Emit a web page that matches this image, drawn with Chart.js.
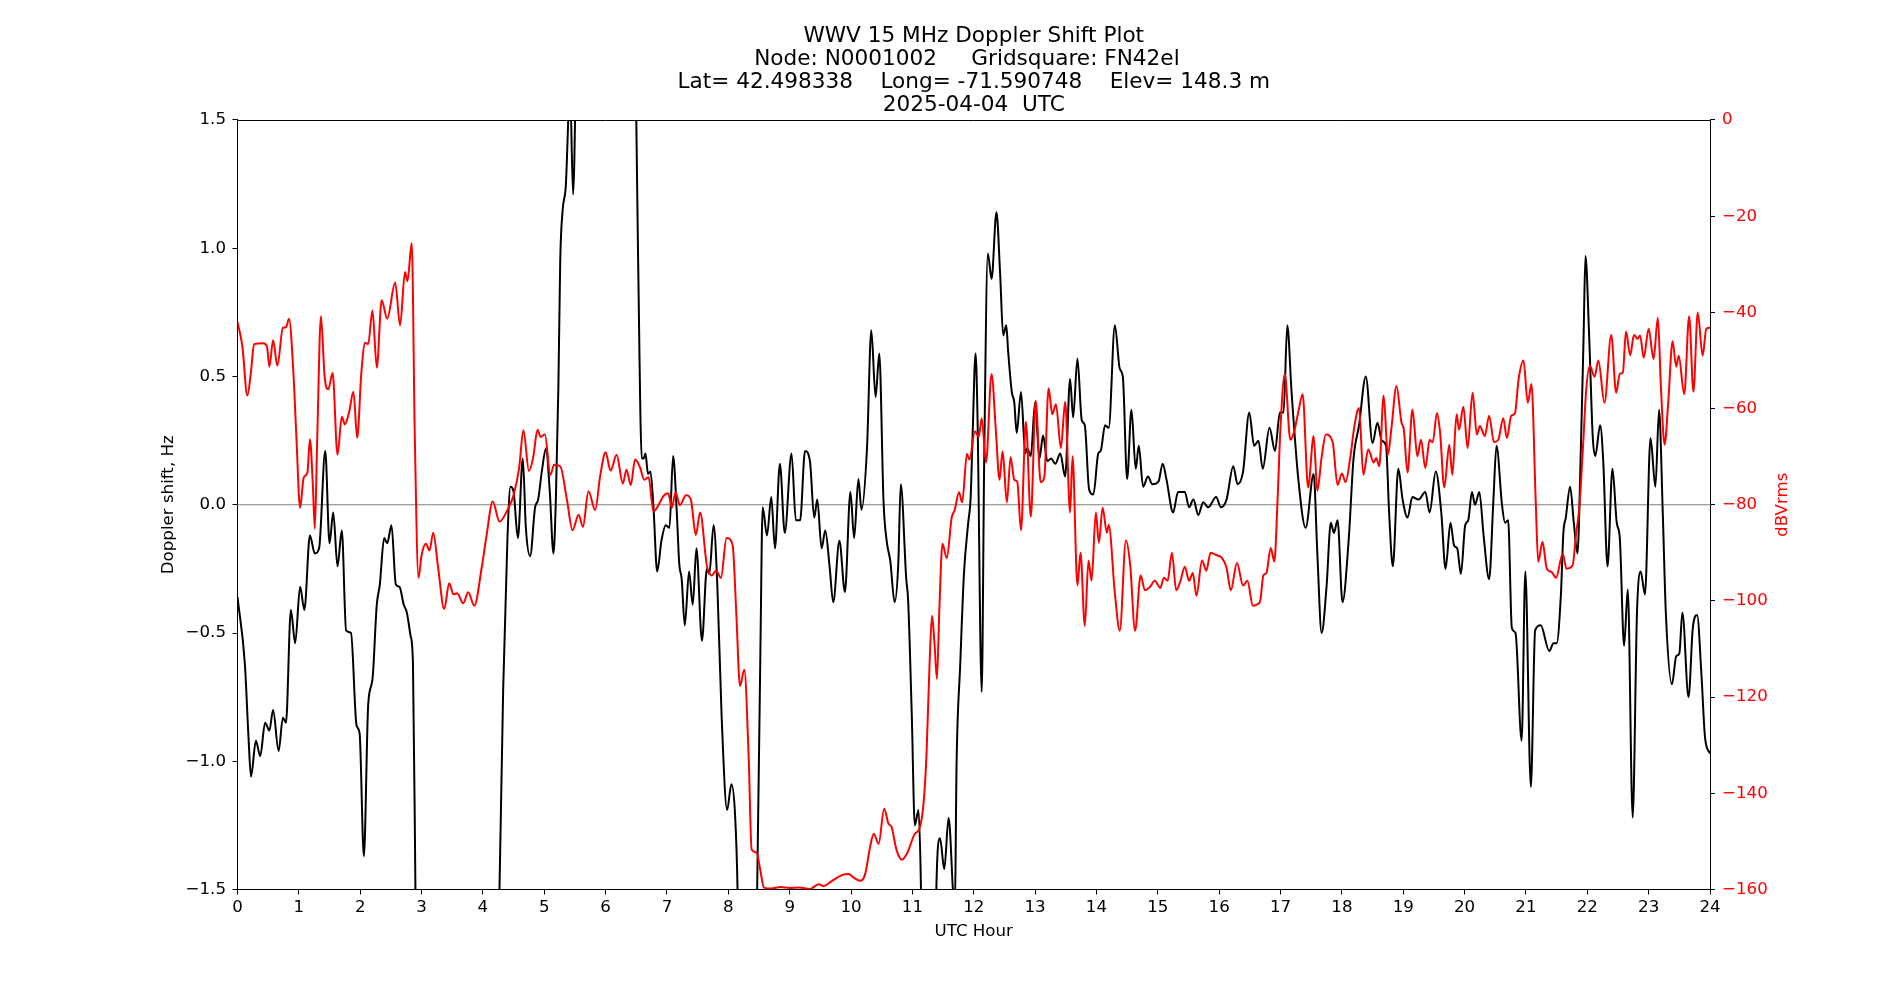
<!DOCTYPE html>
<html>
<head>
<meta charset="utf-8">
<title>WWV 15 MHz Doppler Shift Plot</title>
<script src="https://cdn.jsdelivr.net/npm/chart.js@4.4.1/dist/chart.umd.min.js"></script>
<style>
  html, body { margin: 0; padding: 0; background: #fff; }
  #wrap { width: 1900px; height: 1000px; }
</style>
</head>
<body>
<div id="wrap"><canvas id="dopplerChart" width="1900" height="1000"></canvas></div>
<script>
// title lines
const titleLines = [
    'WWV 15 MHz Doppler Shift Plot',
    'Node: N0001002     Gridsquare: FN42el  ',
    'Lat= 42.498338    Long= -71.590748    Elev= 148.3 m',
    '2025-04-04  UTC'
];

// Doppler shift (Hz); values beyond +-1.5 run off the axes
const dopplerHours = [
    0.00, 0.12, 0.18, 0.22, 0.30, 0.37, 0.45, 0.52, 0.58, 0.67, 0.74, 0.79, 0.87, 0.94,
    1.02, 1.09, 1.18, 1.26, 1.33, 1.43, 1.50, 1.56, 1.63, 1.70, 1.77, 1.85, 1.94, 1.99,
    2.06, 2.13, 2.20, 2.27, 2.32, 2.39, 2.44, 2.51, 2.58, 2.64, 2.71, 2.76, 2.82, 2.86,
    2.90, 2.95, 4.20, 4.27, 4.33, 4.40, 4.45, 4.50, 4.57, 4.65, 4.70, 4.77, 4.85, 4.90,
    4.96, 5.03, 5.09, 5.15, 5.19, 5.23, 5.26, 5.30, 5.35, 5.42, 5.47, 5.52, 5.56, 6.44,
    6.50, 6.53, 6.59, 6.62, 6.65, 6.69, 6.73, 6.78, 6.84, 6.91, 6.98, 7.04, 7.10, 7.16,
    7.20, 7.24, 7.29, 7.36, 7.42, 7.48, 7.57, 7.65, 7.69, 7.76, 7.82, 7.89, 7.98, 8.05,
    8.11, 8.15, 8.20, 8.43, 8.47, 8.52, 8.56, 8.63, 8.70, 8.76, 8.84, 8.92, 9.03, 9.10,
    9.17, 9.25, 9.33, 9.40, 9.45, 9.52, 9.58, 9.65, 9.71, 9.81, 9.90, 9.99, 10.05, 10.12,
    10.17, 10.26, 10.33, 10.40, 10.46, 10.53, 10.58, 10.64, 10.71, 10.77, 10.81, 10.90, 10.93, 10.99,
    11.04, 11.10, 11.14, 11.19, 11.34, 11.39, 11.45, 11.52, 11.59, 11.66, 11.69, 11.72, 11.78, 11.84,
    11.91, 11.95, 11.98, 12.03, 12.06, 12.13, 12.17, 12.23, 12.29, 12.37, 12.43, 12.48, 12.53, 12.56,
    12.62, 12.66, 12.70, 12.77, 12.84, 12.87, 12.93, 13.00, 13.07, 13.13, 13.20, 13.26, 13.33, 13.41,
    13.49, 13.57, 13.62, 13.69, 13.76, 13.81, 13.88, 13.95, 14.03, 14.07, 14.14, 14.20, 14.30, 14.38,
    14.43, 14.50, 14.57, 14.64, 14.69, 14.76, 14.84, 14.91, 15.01, 15.08, 15.14, 15.25, 15.33, 15.44,
    15.51, 15.58, 15.66, 15.74, 15.82, 15.95, 16.03, 16.12, 16.23, 16.30, 16.39, 16.49, 16.57, 16.64,
    16.71, 16.82, 16.91, 16.99, 17.05, 17.11, 17.18, 17.29, 17.41, 17.54, 17.60, 17.67, 17.75, 17.82,
    17.87, 17.93, 18.01, 18.11, 18.19, 18.28, 18.39, 18.50, 18.58, 18.65, 18.72, 18.77, 18.83, 18.92,
    18.99, 19.07, 19.15, 19.25, 19.36, 19.43, 19.53, 19.62, 19.69, 19.77, 19.83, 19.88, 19.94, 20.01,
    20.06, 20.12, 20.17, 20.24, 20.31, 20.40, 20.47, 20.52, 20.61, 20.66, 20.71, 20.77, 20.83, 20.93,
    20.99, 21.08, 21.15, 21.24, 21.38, 21.45, 21.50, 21.57, 21.61, 21.65, 21.72, 21.78, 21.84, 21.89,
    21.94, 21.97, 22.03, 22.09, 22.13, 22.21, 22.26, 22.33, 22.41, 22.48, 22.53, 22.60, 22.66, 22.74,
    22.81, 22.87, 22.94, 23.03, 23.11, 23.17, 23.23, 23.28, 23.38, 23.45, 23.50, 23.55, 23.65, 23.72,
    23.79, 23.86, 23.92, 24.00
];
const dopplerShift = [
    -0.36, -0.62, -0.91, -1.06, -0.92, -0.98, -0.85, -0.88, -0.80, -0.96, -0.83, -0.85, -0.41, -0.54,
    -0.32, -0.41, -0.12, -0.19, -0.17, 0.21, -0.15, -0.03, -0.24, -0.10, -0.49, -0.50, -0.86, -0.89,
    -1.37, -0.78, -0.68, -0.39, -0.31, -0.13, -0.15, -0.08, -0.31, -0.32, -0.39, -0.42, -0.51, -0.62,
    -1.50, -2.60, -2.60, -1.50, -0.72, -0.13, 0.07, 0.05, -0.13, 0.18, -0.09, -0.20, -0.01, 0.02,
    0.13, 0.22, 0.05, -0.19, 0.03, 0.46, 0.95, 1.15, 1.24, 1.62, 1.21, 1.80, 2.60, 2.60,
    1.50, 0.95, 0.18, 0.18, 0.20, 0.12, 0.13, -0.01, -0.26, -0.14, -0.08, -0.09, 0.19, -0.03,
    -0.23, -0.29, -0.47, -0.26, -0.39, -0.17, -0.53, -0.25, -0.27, -0.08, -0.31, -0.82, -1.19, -1.09,
    -1.21, -1.50, -2.40, -2.40, -1.50, -0.62, -0.01, -0.12, 0.03, -0.17, 0.16, -0.11, 0.20, -0.06,
    -0.06, 0.21, 0.17, -0.05, 0.02, -0.17, -0.10, -0.24, -0.38, -0.14, -0.34, 0.05, -0.13, 0.10,
    -0.02, 0.22, 0.68, 0.42, 0.59, 0.01, -0.14, -0.22, -0.38, -0.23, 0.08, -0.29, -0.37, -0.82,
    -1.25, -1.19, -1.50, -2.40, -2.40, -1.50, -1.30, -1.42, -1.22, -1.50, -1.62, -1.01, -0.62, -0.27,
    -0.07, 0.03, 0.26, 0.59, 0.36, -0.73, 0.17, 0.98, 0.88, 1.14, 0.90, 0.66, 0.70, 0.60,
    0.44, 0.40, 0.28, 0.44, 0.20, 0.22, 0.19, 0.40, 0.18, 0.27, 0.17, 0.18, 0.16, 0.20,
    0.11, 0.49, 0.34, 0.57, 0.33, 0.31, 0.06, 0.04, 0.20, 0.21, 0.31, 0.30, 0.70, 0.53,
    0.50, 0.10, 0.37, 0.14, 0.23, 0.07, 0.11, 0.08, 0.09, 0.16, 0.10, -0.03, 0.05, 0.05,
    -0.01, 0.02, -0.04, 0.01, -0.01, 0.03, -0.01, 0.02, 0.15, 0.08, 0.13, 0.36, 0.23, 0.25,
    0.14, 0.30, 0.21, 0.36, 0.36, 0.70, 0.44, 0.10, -0.09, 0.12, -0.19, -0.50, -0.32, -0.07,
    -0.11, -0.06, -0.38, -0.14, 0.18, 0.31, 0.50, 0.24, 0.32, 0.25, 0.23, -0.03, -0.24, 0.14,
    0.02, -0.05, 0.03, 0.02, 0.05, -0.03, 0.13, -0.03, -0.25, -0.07, -0.16, -0.17, -0.27, -0.08,
    -0.06, 0.05, 0.00, 0.05, -0.12, -0.29, 0.02, 0.23, 0.00, -0.07, -0.06, -0.48, -0.50, -0.92,
    -0.26, -1.10, -0.49, -0.47, -0.57, -0.54, -0.54, -0.35, -0.11, -0.05, 0.07, -0.07, -0.19, 0.17,
    0.66, 0.97, 0.66, 0.26, 0.19, 0.31, 0.17, -0.24, 0.14, -0.07, -0.13, -0.55, -0.33, -1.22,
    -0.42, -0.26, -0.35, 0.26, 0.07, 0.37, -0.03, -0.42, -0.70, -0.59, -0.58, -0.42, -0.75, -0.48,
    -0.43, -0.66, -0.91, -0.97
];

// received signal level (dBVrms)
const powerHours = [
    0.00, 0.08, 0.16, 0.22, 0.27, 0.42, 0.48, 0.52, 0.58, 0.65, 0.74, 0.79, 0.84, 0.91,
    0.96, 1.02, 1.08, 1.14, 1.18, 1.23, 1.26, 1.30, 1.36, 1.42, 1.48, 1.55, 1.63, 1.70,
    1.75, 1.82, 1.89, 1.95, 2.02, 2.08, 2.13, 2.20, 2.27, 2.35, 2.44, 2.57, 2.65, 2.73,
    2.77, 2.84, 2.89, 2.95, 3.00, 3.07, 3.13, 3.19, 3.27, 3.37, 3.45, 3.52, 3.58, 3.68,
    3.76, 3.86, 3.98, 4.06, 4.16, 4.27, 4.40, 4.50, 4.59, 4.66, 4.75, 4.82, 4.89, 4.94,
    5.01, 5.10, 5.16, 5.26, 5.37, 5.46, 5.56, 5.63, 5.72, 5.83, 5.91, 6.00, 6.08, 6.18,
    6.28, 6.34, 6.41, 6.48, 6.56, 6.63, 6.70, 6.78, 6.86, 6.94, 7.02, 7.08, 7.14, 7.21,
    7.31, 7.39, 7.47, 7.54, 7.65, 7.73, 7.80, 7.88, 7.97, 8.07, 8.13, 8.19, 8.26, 8.33,
    8.38, 8.46, 8.52, 8.58, 8.70, 8.85, 9.00, 9.15, 9.33, 9.47, 9.55, 9.68, 9.85, 9.96,
    10.04, 10.15, 10.23, 10.31, 10.37, 10.45, 10.54, 10.61, 10.66, 10.74, 10.83, 10.92, 11.04, 11.11,
    11.18, 11.23, 11.28, 11.32, 11.36, 11.40, 11.44, 11.49, 11.56, 11.64, 11.69, 11.76, 11.81, 11.89,
    11.93, 12.02, 12.08, 12.13, 12.20, 12.29, 12.36, 12.42, 12.47, 12.54, 12.60, 12.66, 12.71, 12.77,
    12.85, 12.93, 13.01, 13.09, 13.15, 13.22, 13.28, 13.34, 13.42, 13.49, 13.57, 13.61, 13.69, 13.74,
    13.81, 13.87, 13.92, 13.99, 14.04, 14.10, 14.17, 14.20, 14.30, 14.38, 14.48, 14.55, 14.63, 14.72,
    14.79, 14.87, 14.95, 15.04, 15.10, 15.16, 15.23, 15.30, 15.37, 15.44, 15.51, 15.57, 15.63, 15.72,
    15.79, 15.86, 15.96, 16.04, 16.12, 16.19, 16.29, 16.39, 16.46, 16.55, 16.62, 16.67, 16.72, 16.77,
    16.84, 16.90, 16.95, 17.00, 17.07, 17.16, 17.22, 17.29, 17.36, 17.45, 17.54, 17.60, 17.67, 17.74,
    17.85, 17.93, 18.00, 18.06, 18.14, 18.20, 18.28, 18.35, 18.43, 18.52, 18.56, 18.61, 18.68, 18.75,
    18.81, 18.89, 18.97, 19.01, 19.07, 19.15, 19.23, 19.29, 19.36, 19.43, 19.48, 19.55, 19.60, 19.67,
    19.75, 19.80, 19.87, 19.91, 19.98, 20.05, 20.13, 20.20, 20.25, 20.33, 20.40, 20.48, 20.55, 20.63,
    20.69, 20.76, 20.82, 20.88, 20.96, 21.03, 21.09, 21.16, 21.20, 21.27, 21.34, 21.42, 21.49, 21.60,
    21.66, 21.76, 21.82, 21.87, 21.93, 21.98, 22.04, 22.12, 22.18, 22.28, 22.39, 22.47, 22.53, 22.58,
    22.63, 22.70, 22.76, 22.82, 22.86, 22.92, 23.00, 23.08, 23.15, 23.20, 23.26, 23.32, 23.39, 23.45,
    23.49, 23.58, 23.66, 23.73, 23.80, 23.88, 23.94, 24.00
];
const powerDb = [
    -42.0, -47.1, -57.3, -52.3, -46.6, -46.4, -47.1, -51.3, -45.8, -51.1, -43.2, -43.1, -41.3, -52.3,
    -65.9, -80.6, -74.3, -73.3, -66.4, -76.4, -85.0, -65.9, -40.8, -53.4, -56.0, -52.6, -69.6, -61.7,
    -63.3, -60.7, -56.5, -66.1, -52.3, -46.3, -46.6, -39.6, -51.5, -37.5, -41.3, -33.8, -42.7, -31.6,
    -33.5, -25.6, -65.9, -95.2, -90.5, -88.1, -89.5, -85.8, -93.1, -101.7, -96.3, -98.6, -98.4, -100.5,
    -98.2, -101.0, -93.1, -86.3, -79.3, -83.5, -81.1, -78.0, -72.4, -64.5, -73.0, -70.1, -64.4, -65.9,
    -65.4, -73.8, -71.7, -72.0, -79.0, -85.3, -82.1, -84.6, -77.2, -81.1, -74.1, -69.1, -72.9, -69.6,
    -75.6, -72.7, -75.9, -70.6, -72.2, -74.8, -74.3, -81.4, -80.1, -78.2, -77.6, -80.6, -77.4, -80.1,
    -78.0, -79.0, -86.3, -81.6, -92.6, -94.7, -93.7, -95.2, -86.9, -88.4, -102.6, -117.7, -114.3, -131.9,
    -151.7, -152.3, -155.9, -159.6, -159.8, -159.5, -159.7, -159.6, -159.9, -158.9, -159.3, -158.3, -157.0, -156.8,
    -157.5, -158.2, -156.8, -151.2, -148.4, -150.5, -143.2, -146.3, -147.0, -151.7, -153.8, -152.3, -148.4, -147.5,
    -142.3, -131.9, -113.0, -103.1, -108.8, -116.2, -101.5, -88.1, -91.1, -82.7, -81.1, -77.4, -79.5, -69.4,
    -70.6, -64.7, -65.9, -62.0, -71.2, -52.8, -64.5, -74.8, -68.9, -79.5, -70.1, -74.8, -75.3, -85.3,
    -62.8, -82.5, -58.4, -75.3, -74.3, -55.8, -61.2, -59.1, -68.2, -58.6, -81.6, -69.9, -96.8, -90.0,
    -105.2, -91.6, -95.8, -81.6, -87.9, -80.6, -85.8, -84.2, -98.4, -106.2, -87.4, -92.6, -106.2, -94.7,
    -97.8, -97.1, -95.8, -97.3, -95.2, -95.8, -90.0, -97.8, -95.8, -92.9, -95.8, -94.2, -98.9, -91.6,
    -93.7, -90.0, -90.5, -91.0, -93.1, -97.8, -92.1, -96.8, -95.8, -101.0, -100.7, -99.9, -94.7, -94.2,
    -89.0, -91.8, -79.5, -63.8, -52.8, -66.5, -64.9, -60.7, -57.0, -76.4, -65.7, -77.1, -70.1, -65.4,
    -67.0, -75.9, -73.5, -75.3, -69.9, -64.0, -59.9, -73.8, -68.5, -71.2, -70.3, -72.0, -57.3, -69.6,
    -63.8, -55.3, -62.8, -64.4, -73.3, -60.2, -69.9, -66.5, -72.4, -66.5, -67.0, -60.9, -64.9, -76.4,
    -67.5, -73.8, -61.2, -64.4, -59.6, -68.2, -56.7, -65.4, -63.6, -65.7, -61.5, -67.0, -66.5, -62.0,
    -66.1, -61.5, -61.0, -53.9, -50.0, -58.8, -54.9, -79.5, -91.9, -87.7, -93.3, -94.0, -95.2, -90.2,
    -93.3, -92.6, -85.8, -80.6, -68.0, -56.5, -51.1, -53.4, -50.0, -58.8, -44.7, -56.7, -52.8, -52.5,
    -44.0, -48.9, -44.7, -45.5, -44.8, -49.4, -43.4, -49.7, -41.1, -55.5, -67.5, -58.6, -46.0, -51.3,
    -49.0, -57.0, -40.8, -56.5, -40.0, -49.0, -43.4, -43.2
];

// horizontal reference line at zero Doppler shift
const zeroHours = [0, 24];
const zeroLevel = [0, 0];

// axis ticks
const hourTicks = { min: 0, max: 24, step: 1 };
const dopplerTicks = { min: -1.5, max: 1.5, step: 0.5 };
const powerTicks = { min: -160, max: 0, step: 20 };

const FONT = 'DejaVu Sans';
const LABEL_SIZE = 16.67;
const TITLE_SIZE = 21.6;

function toPoints(xs, ys) {
    return xs.map((x, i) => ({ x: x, y: ys[i] }));
}

function minusSign(s) {
    return s.replace('-', '\u2212');
}

// top spine and right-hand axis label (matplotlib style, reads bottom to top)
const extrasPlugin = {
    id: 'extras',
    afterDraw(chart) {
        const { ctx, chartArea } = chart;
        ctx.save();
        ctx.strokeStyle = '#000';
        ctx.lineWidth = 1;
        ctx.beginPath();
        ctx.moveTo(chartArea.left, Math.round(chartArea.top) + 0.5);
        ctx.lineTo(chartArea.right, Math.round(chartArea.top) + 0.5);
        ctx.stroke();

        ctx.translate(chartArea.right + 72.5, (chartArea.top + chartArea.bottom) / 2);
        ctx.rotate(-Math.PI / 2);
        ctx.fillStyle = '#ff0000';
        ctx.font = LABEL_SIZE + 'px "' + FONT + '"';
        ctx.textAlign = 'center';
        ctx.textBaseline = 'middle';
        ctx.fillText('dBVrms', 0, 0);
        ctx.restore();
    }
};

function main() {
    Chart.defaults.font.family = FONT;
    Chart.defaults.color = '#000';

    new Chart(document.getElementById('dopplerChart'), {
        type: 'line',
        data: {
            datasets: [
                {
                    label: 'dBVrms',
                    data: toPoints(powerHours, powerDb),
                    yAxisID: 'y2',
                    borderColor: '#ff0000',
                    borderWidth: 2,
                    pointRadius: 0,
                    cubicInterpolationMode: 'monotone'
                },
                {
                    label: 'Doppler shift',
                    data: toPoints(dopplerHours, dopplerShift),
                    yAxisID: 'y',
                    borderColor: '#000000',
                    borderWidth: 2,
                    pointRadius: 0,
                    cubicInterpolationMode: 'monotone'
                },
                {
                    label: 'zero',
                    data: toPoints(zeroHours, zeroLevel),
                    yAxisID: 'y',
                    borderColor: '#808080',
                    borderWidth: 1.2,
                    pointRadius: 0
                }
            ]
        },
        options: {
            responsive: false,
            animation: false,
            events: [],
            parsing: false,
            layout: { padding: { left: 140, right: 90, top: 0, bottom: 50.5 } },
            plugins: {
                legend: { display: false },
                tooltip: { enabled: false },
                title: {
                    display: true,
                    fullSize: false,
                    text: titleLines,
                    color: '#000',
                    font: { family: FONT, size: TITLE_SIZE, weight: 'normal', lineHeight: 23 / TITLE_SIZE },
                    padding: { top: 25, bottom: 3 }
                }
            },
            scales: {
                x: {
                    type: 'linear',
                    position: 'bottom',
                    min: hourTicks.min,
                    max: hourTicks.max,
                    ticks: {
                        stepSize: hourTicks.step,
                        autoSkip: false,
                        maxRotation: 0,
                        padding: 3.5,
                        color: '#000',
                        font: { size: LABEL_SIZE },
                        callback: v => String(v)
                    },
                    grid: { drawOnChartArea: false, drawTicks: true, tickLength: 5, tickColor: '#000', tickWidth: 1 },
                    border: { display: true, color: '#000', width: 1 },
                    title: { display: true, text: 'UTC Hour', color: '#000', font: { size: LABEL_SIZE }, padding: { top: 0, bottom: 8 } },
                    afterFit: s => { s.height = 60; }
                },
                y: {
                    position: 'left',
                    min: dopplerTicks.min,
                    max: dopplerTicks.max,
                    ticks: {
                        stepSize: dopplerTicks.step,
                        padding: 6.5,
                        color: '#000',
                        font: { size: LABEL_SIZE },
                        callback: v => minusSign(Number(v).toFixed(1))
                    },
                    grid: { drawOnChartArea: false, drawTicks: true, tickLength: 5, tickColor: '#000', tickWidth: 1 },
                    border: { display: true, color: '#000', width: 1 },
                    title: { display: true, text: 'Doppler shift, Hz', color: '#000', font: { size: LABEL_SIZE }, padding: { top: 18.5, bottom: 0 } },
                    afterFit: s => { s.width = 97.5; }
                },
                y2: {
                    position: 'right',
                    min: powerTicks.min,
                    max: powerTicks.max,
                    ticks: {
                        stepSize: powerTicks.step,
                        padding: 7,
                        color: '#ff0000',
                        font: { size: LABEL_SIZE },
                        callback: v => v === 0 ? '0' : minusSign(String(v))
                    },
                    grid: { drawOnChartArea: false, drawTicks: true, tickLength: 5, tickColor: '#000', tickWidth: 1 },
                    border: { display: true, color: '#000', width: 1 },
                    afterFit: s => { s.width = 100; }
                }
            }
        },
        plugins: [extrasPlugin]
    });
}

window.onload = function () {
    main();
};
</script>
</body>
</html>
